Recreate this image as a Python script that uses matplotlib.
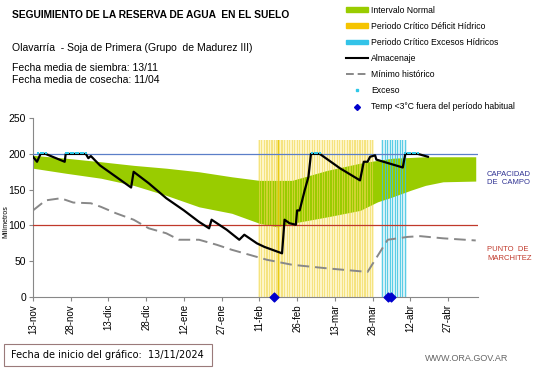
import matplotlib.pyplot as plt
import numpy as np
from matplotlib.lines import Line2D
from matplotlib.patches import Patch

plt.rcParams["font.family"] = ["Liberation Sans", "DejaVu Sans"]

# days counted from 13-nov-2024
tick_days = [0, 15, 30, 45, 60, 75, 90, 105, 120, 135, 150, 165]
tick_labels = ["13-nov", "28-nov", "13-dic", "28-dic", "12-ene", "27-ene",
               "11-feb", "26-feb", "13-mar", "28-mar", "12-abr", "27-abr"]

band_days = [0, 13, 27, 40, 53, 66, 79, 90, 97, 103, 117, 130, 137, 143,
             150, 156, 163, 176]
band_upper = [198, 194, 189, 184, 180, 175, 168, 163, 163, 163, 177, 187,
              191, 194, 195, 196, 196, 196]
band_lower = [180, 173, 166, 156, 142, 126, 117, 103, 98, 103, 112, 121,
              133, 140, 149, 156, 161, 162]

min_days = [0, 5, 11, 16, 23, 27, 33, 40, 46, 53, 58, 66, 73, 79, 86, 93,
            103, 117, 133, 141, 149, 154, 163, 176]
min_vals = [121, 135, 138, 132, 131, 126, 117, 108, 96, 89, 80, 80, 73, 66,
            59, 52, 45, 40, 35, 80, 84, 85, 82, 79]

alm_days = [0, 1.6, 3, 5, 12.6, 13, 21, 22, 23, 26.6, 33, 39, 40, 46, 53,
            60, 66, 70, 71, 77, 82, 84, 89, 92, 99, 100, 102, 104.5, 105,
            106, 108, 109.5, 110.5, 114, 122, 130, 131.5, 133, 134, 136,
            136.5, 147, 148, 153, 157]
alm_vals = [196, 189, 200, 200, 189, 200, 200, 194, 197, 184, 168, 153, 175,
            159, 138, 121, 105, 96, 108, 94, 80, 87, 75, 70, 61, 108, 103,
            101, 121, 121, 149, 168, 200, 200, 180, 163, 189, 189, 196, 198,
            192, 181, 200, 200, 196]

exceso_days = [2, 3, 4, 5, 13, 14, 15, 16, 17, 18, 19, 20, 21,
               111, 112, 113, 114, 148, 149, 150, 151, 152, 153]
frio_days = [96, 141, 142.5]

deficit_days = np.arange(90, 136)
excesos_days = np.arange(139, 149)
periodo_height = 220

fig = plt.figure(figsize=(5.41, 3.68), dpi=100)
ax = fig.add_axes([0.061, 0.193, 0.823, 0.486])

# pale background of the critical periods
ax.bar(deficit_days, periodo_height, width=1.0, color="#fdf5c8", lw=0,
       zorder=0.5)
ax.bar(excesos_days, periodo_height, width=1.0, color="#d6f1f7", lw=0,
       zorder=0.5)
ax.fill_between(band_days, band_lower, band_upper, color="#99cc00", lw=0,
                zorder=1)
ax.bar(deficit_days, periodo_height, width=0.45, color="#f0d850", alpha=0.6,
       lw=0, zorder=2)
ax.bar([97.5], periodo_height, width=0.5, color="#e8c800", alpha=0.9, lw=0,
       zorder=2)
ax.bar(excesos_days, periodo_height, width=0.45, color="#3cc4e2", alpha=0.8,
       lw=0, zorder=2)

ax.axhline(200, color="#5b7fc8", lw=0.9, zorder=3)
ax.axhline(100, color="#c0392b", lw=0.9, zorder=3)

ax.plot(min_days, min_vals, color="#888888", lw=1.4, dashes=(6, 3), zorder=4)
ax.plot(alm_days, alm_vals, color="black", lw=1.6, zorder=5)
ax.scatter(exceso_days, [201] * len(exceso_days), s=4, color="#2ec8e8",
           marker="s", zorder=6, lw=0)
ax.scatter(frio_days, [0] * len(frio_days), s=20, color="#0000cc",
           marker="D", zorder=7, clip_on=False)

ax.set_xlim(0, 177)
ax.set_ylim(0, 250)
ax.set_yticks([0, 50, 100, 150, 200, 250])
ax.set_xticks(tick_days)
ax.set_xticklabels(tick_labels, rotation=90, fontsize=7)
ax.tick_params(axis="y", labelsize=7.5, length=3, color="#888888", pad=2)
ax.tick_params(axis="x", length=3, color="#888888", pad=2)
for side in ["top", "right"]:
    ax.spines[side].set_visible(False)
for side in ["left", "bottom"]:
    ax.spines[side].set_color("#888888")
ax.set_ylabel("Milímetros", fontsize=5)
ax.yaxis.set_label_coords(-0.053, 0.42)

fig.text(0.9, 0.515, "CAPACIDAD\nDE  CAMPO", color="#2e3192",
         fontsize=5.5, va="center", linespacing=1.3)
fig.text(0.9, 0.31, "PUNTO  DE\nMARCHITEZ", color="#c0392b", fontsize=5.5,
         va="center", linespacing=1.3)

fig.text(0.022, 0.958, "SEGUIMIENTO DE LA RESERVA DE AGUA  EN EL SUELO",
         fontsize=7.4, weight="bold", va="center")
fig.text(0.022, 0.87, "Olavarría  - Soja de Primera (Grupo  de Madurez III)",
         fontsize=7.5, va="center")
fig.text(0.022, 0.815, "Fecha media de siembra: 13/11", fontsize=7.5,
         va="center")
fig.text(0.022, 0.782, "Fecha media de cosecha: 11/04", fontsize=7.5,
         va="center")

handles = [
    Patch(color="#99cc00"),
    Patch(color="#f5c400"),
    Patch(color="#33c3e8"),
    Line2D([], [], color="black", lw=1.5),
    Line2D([], [], color="#888888", lw=1.4, dashes=(4, 2)),
    Line2D([], [], color="#2ec8e8", marker="s", ms=2, lw=0),
    Line2D([], [], color="#0000cc", marker="D", ms=3, lw=0),
]
labels = ["Intervalo Normal", "Periodo Crítico Déficit Hídrico",
          "Periodo Crítico Excesos Hídricos", "Almacenaje", "Mínimo histórico",
          "Exceso", "Temp <3°C fuera del período habitual"]
leg = fig.legend(handles, labels, loc="upper left",
                 bbox_to_anchor=(0.625, 1.005), fontsize=6.2, frameon=False,
                 handlelength=2.6, handleheight=0.5, handletextpad=0.3,
                 labelspacing=0.82)

fig.patches.append(plt.Rectangle((0.008, 0.005), 0.384, 0.06,
                                 transform=fig.transFigure, fill=False,
                                 edgecolor="#9a7a7a", lw=0.8))
fig.text(0.02, 0.036, "Fecha de inicio del gráfico:  13/11/2024",
         fontsize=7, va="center", family=["DejaVu Sans"])
fig.text(0.785, 0.027, "WWW.ORA.GOV.AR", fontsize=6.5, color="#666666",
         va="center")

fig.savefig("out.png", dpi=100)
